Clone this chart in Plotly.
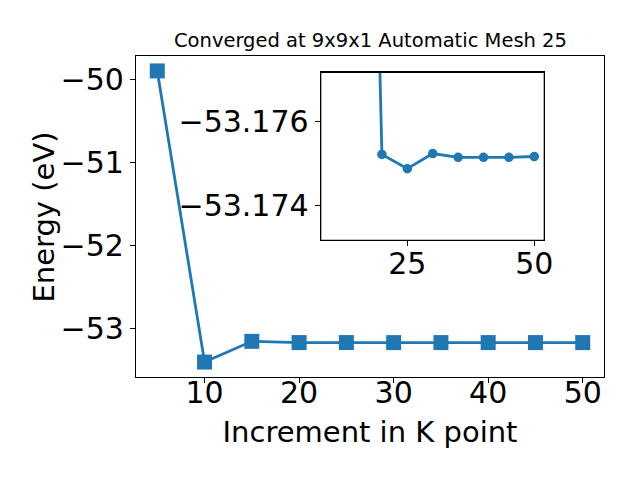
import plotly.graph_objects as go

kpoints = [5, 10, 15, 20, 25, 30, 35, 40, 45, 50]
energy = [-49.90, -53.41, -53.16, -53.17521, -53.17487, -53.17523,
          -53.17514, -53.17514, -53.17514, -53.17516]

inset_kpoints = [15, 20, 25, 30, 35, 40, 45, 50]
inset_energy = [-53.20, -53.17521, -53.17487, -53.17523,
                -53.17514, -53.17514, -53.17514, -53.17516]

title_text = "Converged at 9x9x1 Automatic Mesh 25"
xlabel = "Increment in K point"
ylabel = "Energy (eV)"

C = "#1f77b4"
FONT = "DejaVu Sans"

fig = go.Figure()
fig.add_trace(go.Scatter(
    x=kpoints, y=energy, mode="lines+markers",
    line=dict(color=C, width=2.8),
    marker=dict(symbol="square", size=15, color=C),
    xaxis="x", yaxis="y", showlegend=False, cliponaxis=False))
fig.add_trace(go.Scatter(
    x=inset_kpoints, y=inset_energy, mode="lines+markers",
    line=dict(color=C, width=2.8),
    marker=dict(symbol="circle", size=9.5, color=C),
    xaxis="x2", yaxis="y2", showlegend=False))

axcommon = dict(showline=True, linecolor="black", linewidth=1.2, mirror=True,
                ticks="outside", ticklen=5, tickwidth=1.2, tickcolor="black",
                showgrid=False, zeroline=False,
                tickfont=dict(family=FONT, size=30, color="black"))

fig.update_layout(
    width=640, height=480,
    margin=dict(l=128, r=44, t=48, b=111),
    paper_bgcolor="white", plot_bgcolor="white",
    font=dict(family=FONT, color="black"),
    xaxis=dict(domain=[0, 1], range=[2.75, 52.25], tickmode="linear", tick0=0, dtick=10,
               ticklabelstandoff=-16,
               title=dict(text=xlabel, font=dict(family=FONT, size=29), standoff=12),
               **axcommon),
    yaxis=dict(domain=[0, 1], range=[-53.59, -49.72], tickmode="linear", tick0=-50, dtick=1,
               **axcommon),
    xaxis2=dict(domain=[0.3947, 0.8724], range=[7.95, 51.97], anchor="y2",
                ticklabelstandoff=-8,
                tickvals=[25, 50], **axcommon),
    yaxis2=dict(domain=[0.426, 0.949], range=[-53.17317, -53.17716], anchor="x2",
                tickvals=[-53.176, -53.174], tickformat=".3f", **axcommon),
    annotations=[
        dict(text=title_text, xref="paper", yref="paper", x=0.5, y=1,
             yshift=2, xanchor="center", yanchor="bottom", showarrow=False,
             font=dict(family=FONT, size=19.5, color="black")),
        dict(text=ylabel, xref="paper", yref="paper", x=-0.1966, y=0.5,
             xanchor="center", yanchor="middle", textangle=-90, showarrow=False,
             font=dict(family=FONT, size=29, color="black")),
    ],
)
fig.add_shape(type="rect", xref="x2 domain", yref="y2 domain", x0=0, x1=1, y0=0, y1=1,
              line=dict(color="black", width=1.2), fillcolor="rgba(0,0,0,0)", layer="above")

fig.write_html("out.html")
